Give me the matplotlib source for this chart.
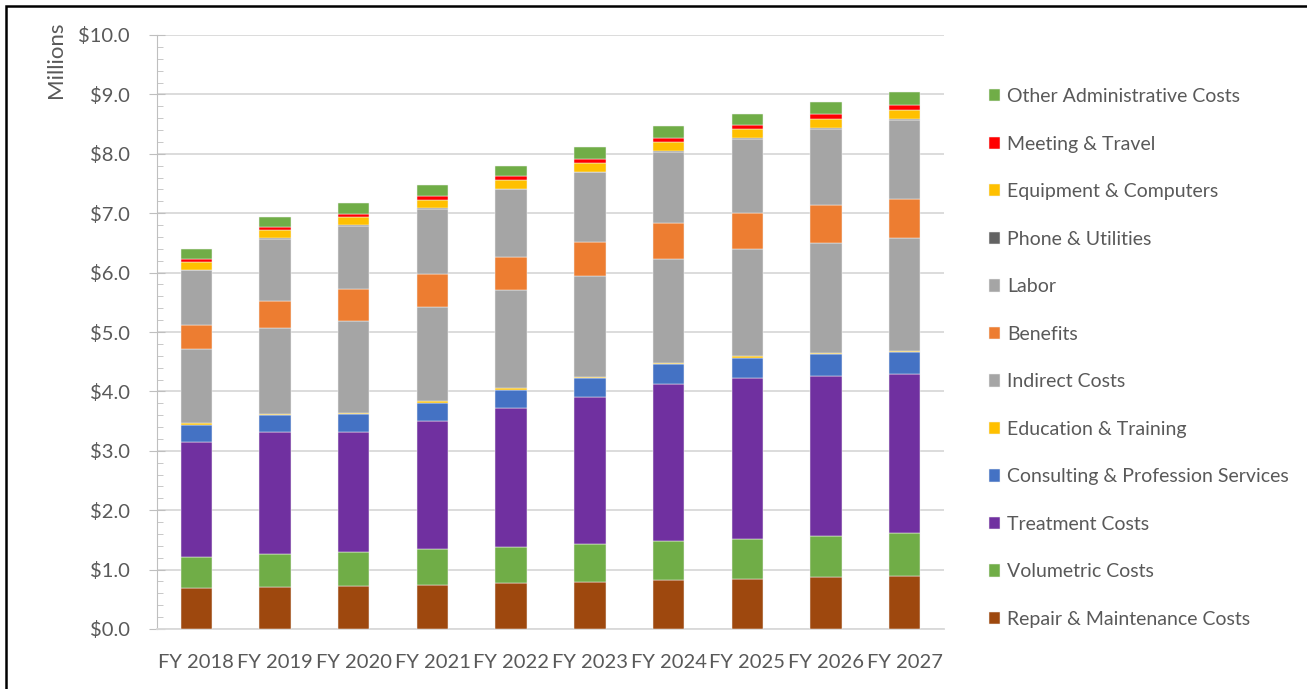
import matplotlib
matplotlib.use("Agg")
import matplotlib.pyplot as plt
import numpy as np
from matplotlib.patches import Rectangle
from matplotlib.ticker import MultipleLocator, FuncFormatter

plt.rcParams["font.family"] = ["Lato", "DejaVu Sans"]

# Fiscal years
years = ["FY 2018", "FY 2019", "FY 2020", "FY 2021", "FY 2022",
         "FY 2023", "FY 2024", "FY 2025", "FY 2026", "FY 2027"]

# Cost components, $ millions (stacked bottom to top)
repair = [0.69, 0.70, 0.72, 0.74, 0.78, 0.79, 0.82, 0.84, 0.88, 0.90]
volumetric = [0.53, 0.56, 0.58, 0.60, 0.60, 0.635, 0.655, 0.67, 0.69, 0.71]
treatment = [1.925, 2.05, 2.01, 2.165, 2.34, 2.48, 2.65, 2.71, 2.695, 2.675]
consulting = [0.29, 0.29, 0.31, 0.30, 0.31, 0.32, 0.335, 0.345, 0.36, 0.38]
education = [0.025, 0.02, 0.02, 0.03, 0.025, 0.025, 0.02, 0.024, 0.02, 0.02]
indirect = [1.26, 1.45, 1.55, 1.59, 1.65, 1.69, 1.75, 1.80, 1.86, 1.90]
benefits = [0.40, 0.45, 0.53, 0.55, 0.556, 0.58, 0.60, 0.61, 0.626, 0.658]
labor = [0.92, 1.05, 1.07, 1.10, 1.14, 1.17, 1.20, 1.25, 1.285, 1.32]
phone = [0.01, 0.01, 0.01, 0.01, 0.012, 0.012, 0.018, 0.012, 0.013, 0.02]
equipment = [0.13, 0.13, 0.13, 0.14, 0.15, 0.15, 0.15, 0.15, 0.16, 0.16]
meeting = [0.05, 0.06, 0.06, 0.065, 0.06, 0.065, 0.068, 0.067, 0.073, 0.079]
other_admin = [0.16, 0.17, 0.175, 0.19, 0.18, 0.19, 0.196, 0.20, 0.206, 0.213]

series = [
    ("Repair & Maintenance Costs", repair, "#9E480E"),
    ("Volumetric Costs", volumetric, "#70AD47"),
    ("Treatment Costs", treatment, "#7030A0"),
    ("Consulting & Profession Services", consulting, "#4472C4"),
    ("Education & Training", education, "#FFC000"),
    ("Indirect Costs", indirect, "#A5A5A5"),
    ("Benefits", benefits, "#ED7D31"),
    ("Labor", labor, "#A5A5A5"),
    ("Phone & Utilities", phone, "#636363"),
    ("Equipment & Computers", equipment, "#FFC000"),
    ("Meeting & Travel", meeting, "#FF0000"),
    ("Other Administrative Costs", other_admin, "#70AD47"),
]

text_color = "#595959"
grid_color = "#D9D9D9"

fig = plt.figure(figsize=(13.07, 6.89), dpi=100)
ax = fig.add_axes([157 / 1307, 1 - 629 / 689, 787 / 1307, 594 / 689])

x = np.arange(len(years))
bottom = np.zeros(len(years))
handles = []
for label, vals, color in series:
    b = ax.bar(x, vals, width=0.4, bottom=bottom, color=color, label=label,
               edgecolor="#F2F2F2", linewidth=0.35, zorder=3)
    handles.append(b)
    bottom += np.array(vals)

ax.set_xlim(-0.5, len(years) - 0.5)
ax.set_ylim(0, 10)
ax.yaxis.set_major_locator(MultipleLocator(1))
ax.yaxis.set_minor_locator(MultipleLocator(0.2))
ax.yaxis.set_major_formatter(FuncFormatter(lambda v, p: f"${v:.1f}"))
ax.grid(axis="y", which="major", color=grid_color, linewidth=1.3, zorder=0)
ax.set_axisbelow(True)

ax.set_xticks(x)
ax.set_xticklabels(years)
ax.tick_params(axis="x", length=0, pad=18, labelsize=14.5, labelcolor=text_color)
ax.tick_params(axis="y", which="major", direction="inout", length=11,
               color="#BFBFBF", pad=14, labelsize=14.5, labelcolor=text_color)
ax.tick_params(axis="y", which="minor", direction="in", length=4.5,
               color="#BFBFBF")

for side in ["top", "right"]:
    ax.spines[side].set_visible(False)
ax.spines["left"].set_color("#BFBFBF")
ax.spines["bottom"].set_color(grid_color)
ax.spines["bottom"].set_linewidth(1.3)

fig.text(56 / 1307, 1 - 60 / 689, "Millions", rotation=90, ha="center",
         va="center", fontsize=16, color=text_color)

leg = ax.legend(handles[::-1], [s[0] for s in series][::-1],
                loc="center left", bbox_to_anchor=(981 / 1307, 1 - 358 / 689),
                bbox_transform=fig.transFigure, frameon=False,
                fontsize=14, labelcolor=text_color, handlelength=0.6,
                handleheight=0.6, handletextpad=0.35, labelspacing=1.57,
                borderaxespad=0)

# outer frame
fig.add_artist(Rectangle((6 / 1307, -0.1), 1.2, 1.1 - 6 / 689,
                         transform=fig.transFigure, fill=False,
                         edgecolor="black", linewidth=1.8))

fig.savefig("out.png", dpi=100)
